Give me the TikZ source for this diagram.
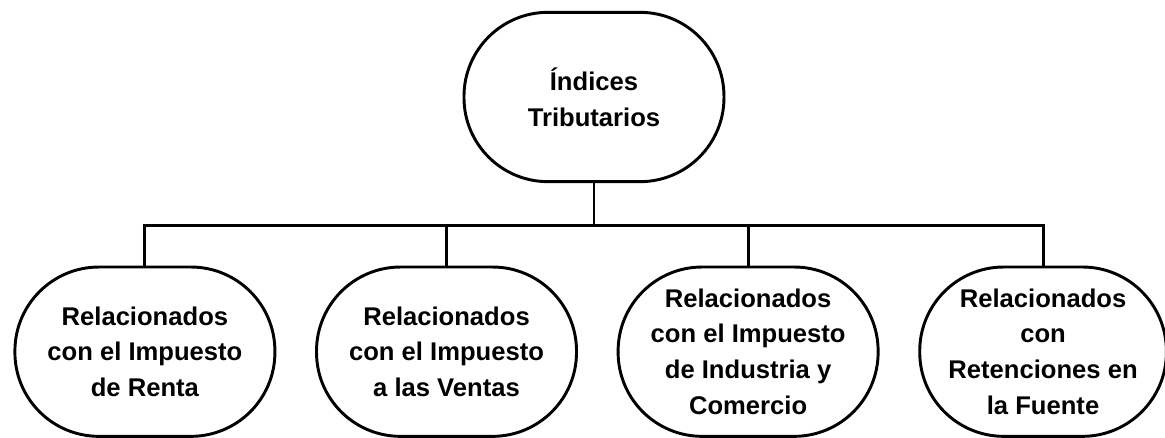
\documentclass[tikz,border=0pt]{standalone}
\usepackage{fontspec}
\setmainfont{Liberation Sans}
\usepackage{tikz-qtree}
\usepackage{tikz}
\usetikzlibrary{positioning}

\tikzset{
	bubble/.style={draw, line width=2.2pt, rounded corners=63pt,
		minimum width=195pt, minimum height=127pt, align=center,
		font=\bfseries\fontsize{19.2}{26.8}\selectfont}
}

\begin{document}
\begin{tikzpicture}[
			every tree node/.style={align=center, anchor=center},
			level distance=191pt,sibling distance=29pt,
			edge from parent/.style={draw, line width=2.2pt},
			edge from parent path={(\tikzparentnode.south) -- ++(0,-32pt) -| (\tikzchildnode.north)}
		]
		\useasboundingbox (-445.5pt,72.75pt) rectangle (428.25pt,-255.75pt);
		\Tree [.\node[bubble] (indices) {Índices\\Tributarios};
			\node[bubble] (renta) {Relacionados\\con el Impuesto\\de Renta};
			\node[bubble] (ventas) {Relacionados\\con el Impuesto\\a las Ventas};
			\node[bubble] (industria) {Relacionados\\con el Impuesto\\de Industria y\\Comercio};
			\node[bubble, minimum width=185pt] (retenciones) {Relacionados\\con\\Retenciones en\\la Fuente};
		]
	\end{tikzpicture}
\end{document}
